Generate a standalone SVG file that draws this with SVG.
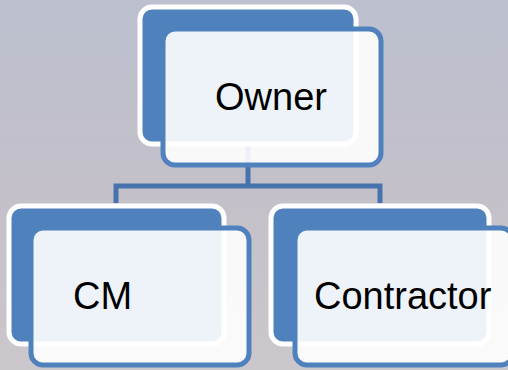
<svg xmlns="http://www.w3.org/2000/svg" width="508" height="370" viewBox="0 0 508 370">
  <defs>
    <linearGradient id="bg" x1="0" y1="0" x2="0" y2="1">
      <stop offset="0" stop-color="#bcc0cf"/>
      <stop offset="0.5" stop-color="#c3c0c9"/>
      <stop offset="1" stop-color="#ccc7cc"/>
    </linearGradient>
  </defs>
  <style>
    .back { fill: #4f81bd; stroke: #ffffff; stroke-width: 5; }
    .front { fill: #ffffff; fill-opacity: 0.9; stroke: #4f81bd; stroke-width: 5; }
    .wire { fill: none; stroke: #4673ad; stroke-width: 5; }
    .label { font-family: "Liberation Sans", Arial, sans-serif; font-size: 38px; fill: #000000; }
  </style>
  <rect x="0" y="0" width="508" height="370" fill="url(#bg)"/>

  <!-- tree links -->
  <g id="connectors">
    <path class="wire" d="M248 144 V186 M116 203 V186 H380 V203"/>
  </g>

  <g id="owner">
    <rect class="back" x="140" y="7" width="216" height="137" rx="12"/>
    <rect class="front" x="163" y="29" width="218" height="136" rx="12"/>
    <text class="label" x="215" y="110">Owner</text>
  </g>

  <g id="cm">
    <rect class="back" x="9" y="206" width="215" height="138" rx="12"/>
    <rect class="front" x="31" y="228" width="218" height="137" rx="12"/>
    <text class="label" x="73" y="309">CM</text>
  </g>

  <g id="contractor">
    <rect class="back" x="271" y="206" width="218" height="138" rx="12"/>
    <rect class="front" x="295" y="228" width="218" height="137" rx="12"/>
    <text class="label" x="314" y="309">Contractor</text>
  </g>
</svg>
